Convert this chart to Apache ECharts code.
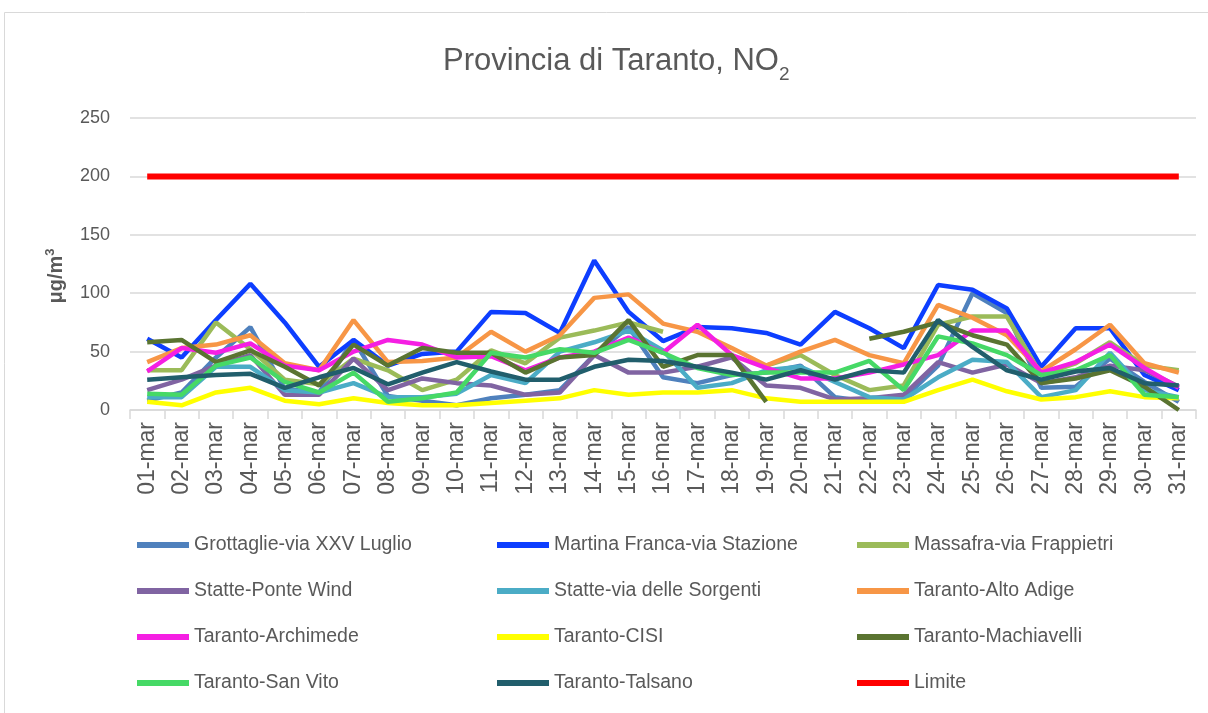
<!DOCTYPE html>
<html>
<head>
<meta charset="utf-8">
<script src="https://cdn.jsdelivr.net/npm/echarts@6/dist/echarts.min.js"></script>
<style>html,body{margin:0;padding:0;background:#fff}#c{width:1208px;height:713px}</style>
</head>
<body>
<div id="c"></div>
<script>
var days = ['01-mar','02-mar','03-mar','04-mar','05-mar','06-mar','07-mar','08-mar','09-mar','10-mar','11-mar','12-mar','13-mar','14-mar','15-mar','16-mar','17-mar','18-mar','19-mar','20-mar','21-mar','22-mar','23-mar','24-mar','25-mar','26-mar','27-mar','28-mar','29-mar','30-mar','31-mar'];
var yTicks = [0, 50, 100, 150, 200, 250];

var grottaglie  = [8, 15, 45, 71, 18, 15, 60, 12, 8, 4, 10, 13, 17, 47, 71, 28, 23, 30, 32, 38, 11, 7, 10, 38, 100, 83, 19, 20, 44, 24, 7];
var martina     = [61, 45, 77, 108, 75, 37, 60, 38, 48, 50, 84, 83, 66, 128, 84, 59, 71, 70, 66, 56, 84, 70, 53, 107, 103, 87, 37, 70, 70, 30, 17];
var massafra    = [34, 34, 75, 52, 26, 22, 44, 34, 17, 26, 51, 40, 62, 68, 75, 67, null, null, 38, 47, 30, 17, 21, 73, 80, 80, 30, 40, 58, 38, 34];
var ponteWind   = [17, 26, 38, 47, 13, 13, 44, 17, 27, 23, 21, 13, 15, 47, 32, 32, 37, 45, 21, 19, 9, 10, 13, 41, 32, 39, 23, 28, 38, 34, 20];
var sorgenti    = [11, 11, 37, 37, 17, 15, 23, 11, 11, 14, 30, 23, 50, 58, 68, 51, 19, 23, 34, 37, 24, 11, 9, 28, 43, 41, 11, 17, 49, 17, 11];
var altoAdige   = [41, 53, 56, 64, 40, 34, 77, 41, 42, 45, 67, 50, 64, 96, 99, 74, 67, 53, 38, 50, 60, 47, 40, 90, 79, 64, 33, 52, 73, 40, 32];
var archimede   = [33, 53, 49, 57, 38, 34, 50, 60, 56, 45, 46, 34, 45, 50, 62, 49, 73, 47, 36, 27, 27, 32, 39, 47, 68, 68, 32, 41, 56, 36, 19];
var cisi        = [7, 4, 15, 19, 8, 5, 10, 6, 4, 4, 6, 8, 10, 17, 13, 15, 15, 17, 10, 7, 7, 7, 7, 17, 26, 16, 9, 11, 16, 11, 10];
var machiavelli = [58, 60, 41, 51, 37, 21, 56, 38, 53, 49, 49, 32, 45, 47, 77, 37, 47, 47, 7, null, null, 61, 67, 75, 64, 56, 23, 27, 34, 20, 0];
var sanVito     = [14, 13, 38, 45, 24, 15, 32, 7, 10, 15, 49, 45, 52, 49, 60, 49, 36, 30, 32, 32, 32, 42, 17, 63, 57, 47, 30, 34, 47, 13, 11];
var talsano     = [26, 28, 30, 31, 19, 28, 36, 22, 32, 41, 33, 26, 26, 37, 43, 42, 37, 32, 26, 34, 26, 34, 32, 77, 54, 34, 26, 33, 36, 23, 21];
var limite      = [200, 200, 200, 200, 200, 200, 200, 200, 200, 200, 200, 200, 200, 200, 200, 200, 200, 200, 200, 200, 200, 200, 200, 200, 200, 200, 200, 200, 200, 200, 200];

var seriesDefs = [
  ['Grottaglie-via XXV Luglio', grottaglie, '#4F81BD'],
  ['Martina Franca-via Stazione', martina, '#0D3EFF'],
  ['Massafra-via Frappietri', massafra, '#9BBB59'],
  ['Statte-Ponte Wind', ponteWind, '#8064A2'],
  ['Statte-via delle Sorgenti', sorgenti, '#4BACC6'],
  ['Taranto-Alto Adige', altoAdige, '#F79646'],
  ['Taranto-Archimede', archimede, '#F51FE3'],
  ['Taranto-CISI', cisi, '#FFFF00'],
  ['Taranto-Machiavelli', machiavelli, '#5A7431'],
  ['Taranto-San Vito', sanVito, '#46D966'],
  ['Taranto-Talsano', talsano, '#215E6C'],
  ['Limite', limite, '#FF0000']
];

var series = seriesDefs.map(function (d) {
  return {
    name: d[0], type: 'line', data: d[1], symbol: 'none', connectNulls: false,
    lineStyle: { color: d[2], width: d[0] === 'Limite' ? 6 : 4.5 },
    itemStyle: { color: d[2] }
  };
});

var FF = 'Liberation Sans, Arial, sans-serif';
var legendFont = { fontFamily: FF, fontSize: 19.5, color: '#595959', lineHeight: 24 };
function mkLegend(names, left) {
  return {
    orient: 'vertical', left: left, top: 533, itemGap: 22, itemWidth: 52, itemHeight: 6,
    icon: 'rect', data: names, textStyle: legendFont, selectedMode: false, padding: 0
  };
}

var chart = echarts.init(document.getElementById('c'));
chart.setOption({
  animation: false,
  backgroundColor: '#fff',
  title: {
    text: '{a|Provincia di Taranto, NO}{b|2}',
    left: 443, top: 39, padding: 0,
    textStyle: {
      fontWeight: 'normal',
      rich: {
        a: { fontFamily: FF, fontWeight: 'normal', fontSize: 31, color: '#595959', lineHeight: 45 },
        b: { fontFamily: FF, fontWeight: 'normal', fontSize: 19, color: '#595959', lineHeight: 45, verticalAlign: 'bottom' }
      }
    }
  },
  graphic: [{
    type: 'rect', shape: { x: 4.5, y: 12.5, width: 1300, height: 800 },
    style: { fill: 'none', stroke: '#D9D9D9', lineWidth: 1 }, silent: true
  }],
  legend: [
    mkLegend([seriesDefs[0][0], seriesDefs[3][0], seriesDefs[6][0], seriesDefs[9][0]], 137),
    mkLegend([seriesDefs[1][0], seriesDefs[4][0], seriesDefs[7][0], seriesDefs[10][0]], 497),
    mkLegend([seriesDefs[2][0], seriesDefs[5][0], seriesDefs[8][0], seriesDefs[11][0]], 857)
  ],
  grid: { left: 130, right: 12, top: 118, bottom: 303, containLabel: false },
  xAxis: {
    type: 'category', data: days, boundaryGap: true,
    axisLine: { lineStyle: { color: '#D9D9D9', width: 1.5 } },
    axisTick: { show: true, length: 9, lineStyle: { color: '#D9D9D9', width: 1.5 } },
    axisLabel: { rotate: 90, margin: 12, interval: 0, fontFamily: FF, fontSize: 23, color: '#595959' }
  },
  yAxis: {
    type: 'value', min: yTicks[0], max: yTicks[yTicks.length - 1], interval: 50,
    name: '{a|μg/m}{b|3}', nameLocation: 'middle', nameGap: 62, nameRotate: 90,
    nameTextStyle: {
      padding: [0, 24, 0, 0],
      rich: {
        a: { fontFamily: FF, fontWeight: 'bold', fontSize: 20, color: '#595959', lineHeight: 24 },
        b: { fontFamily: FF, fontWeight: 'bold', fontSize: 13, color: '#595959', lineHeight: 24, verticalAlign: 'top' }
      }
    },
    axisLine: { show: false }, axisTick: { show: false },
    splitLine: { lineStyle: { color: '#D9D9D9', width: 1.5 } },
    axisLabel: { margin: 20, fontFamily: FF, fontSize: 18, color: '#595959' }
  },
  series: series
});
</script>
</body>
</html>
